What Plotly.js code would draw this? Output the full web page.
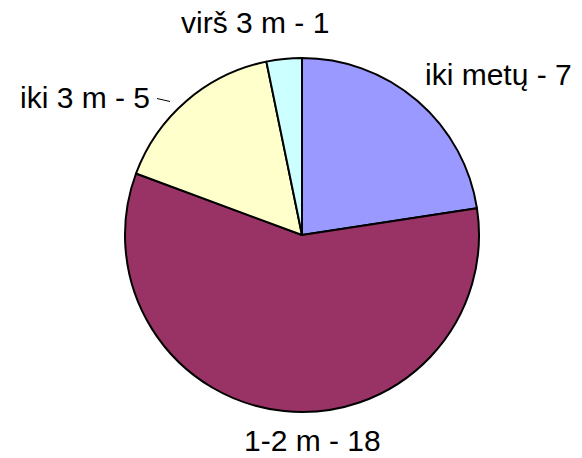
<!DOCTYPE html>
<html>
<head>
<meta charset="utf-8">
<script src="https://cdn.plot.ly/plotly-3.0.1.min.js"></script>
<style>html,body{margin:0;padding:0;background:#fff;}#chart{width:582px;height:458px;}</style>
</head>
<body>
<div id="chart"></div>
<script>
// Data
const categories = ["iki metų", "1-2 m", "iki 3 m", "virš 3 m"];
const values = [7, 18, 5, 1];
const colors = ["#9999FF", "#993366", "#FFFFCC", "#CCFFFF"];

// Label positions in pixels (layout only)
const labelPos = [[498, 74], [312, 440], [85, 98], [255, 22]];

const W = 582, H = 458;
const px = x => x / W;
const py = y => 1 - y / H;

const annotations = categories.map((c, i) => ({
  text: c + " - " + values[i],
  x: px(labelPos[i][0]), y: py(labelPos[i][1]),
  xref: "paper", yref: "paper",
  xanchor: "center", yanchor: "middle",
  showarrow: false,
  borderpad: 0,
  font: {family: "Arial, Liberation Sans, sans-serif", size: 30, color: "#000"}
}));

const trace = {
  type: "pie",
  labels: categories,
  values: values,
  sort: false,
  direction: "clockwise",
  rotation: 0,
  textinfo: "none",
  hoverinfo: "label+value",
  marker: {colors: colors, line: {color: "#000", width: 2}},
  domain: {x: [px(125), px(479)], y: [py(412), py(58)]}
};

const layout = {
  width: W, height: H,
  margin: {l: 0, r: 0, t: 0, b: 0},
  showlegend: false,
  paper_bgcolor: "#fff",
  annotations: annotations,
  shapes: [{
    type: "line", xref: "paper", yref: "paper",
    x0: px(157), y0: py(98.5), x1: px(170), y1: py(101.5),
    line: {color: "#000", width: 1}
  }]
};

Plotly.newPlot("chart", [trace], layout, {displayModeBar: false, staticPlot: true});
</script>
</body>
</html>
